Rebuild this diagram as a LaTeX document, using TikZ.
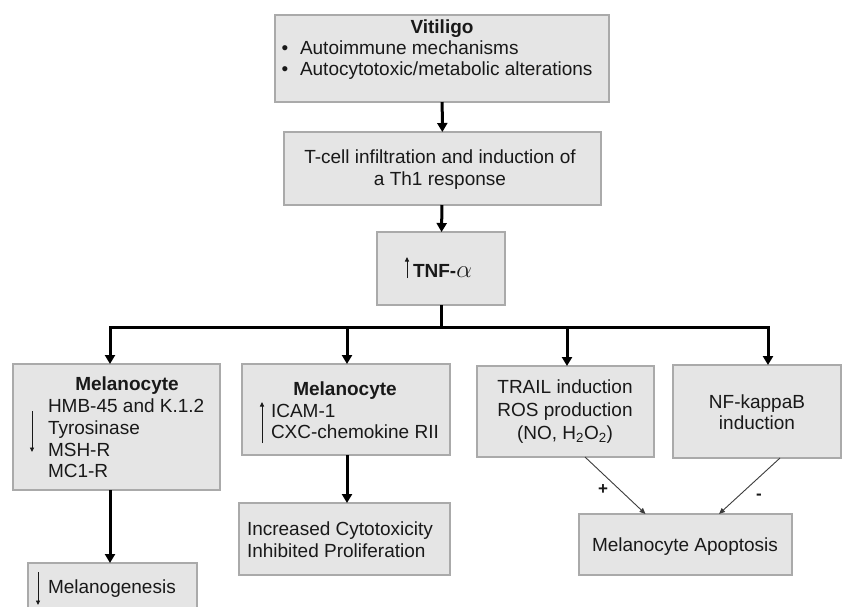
\documentclass[tikz,border=0pt]{standalone}
\usepackage{fontspec}
\setmainfont{Liberation Sans}
\usetikzlibrary{arrows.meta,calc}
\definecolor{boxfill}{RGB}{229,229,229}
\definecolor{boxline}{RGB}{170,170,170}
\definecolor{ink}{RGB}{25,25,25}
\tikzset{
  box/.style={draw=boxline, fill=boxfill, line width=1.3pt, inner sep=0pt, outer sep=0pt, rectangle},
  txt/.style={inner sep=0pt, outer sep=0pt, text=ink, font=\fontsize{19}{21}\selectfont},
  bold/.style={txt, font=\fontsize{19}{21}\selectfont\bfseries},
  thickarrow/.style={line width=3pt, draw=black, -{Triangle[length=9pt,width=10pt]}},
  bothtips/.style={line width=3pt, draw=black, {Triangle[length=9pt,width=10pt]}-{Triangle[length=9pt,width=10pt]}, line join=miter},
  thickline/.style={line width=3pt, draw=black},
  thinarrow/.style={line width=0.9pt, draw=ink!85, -{Triangle[length=6pt,width=5pt]}},
  glypharrow/.style={line width=0.9pt, draw=ink, -{Triangle[length=4.5pt,width=4pt]}},
}
\begin{document}
\begin{tikzpicture}[x=1pt,y=-1pt]
\useasboundingbox (0,0) rectangle (842,606);
\fill[white] (0,0) rectangle (842,606);
\clip (0,0) rectangle (842,606);

% boxes
\node[box, minimum width=334pt, minimum height=87pt] (vit) at (442,58.5) {};
\node[box, minimum width=317pt, minimum height=73pt] (tcell) at (442.5,168.5) {};
\node[box, minimum width=128pt, minimum height=73pt] (tnf) at (441,268.5) {};
\node[box, minimum width=207pt, minimum height=126pt] (m1) at (116.5,427) {};
\node[box, minimum width=169pt, minimum height=77pt] (melg) at (112.5,601.5) {};
\node[box, minimum width=208pt, minimum height=91pt] (m2) at (346,409.5) {};
\node[box, minimum width=211pt, minimum height=72pt] (inc) at (344.5,539) {};
\node[box, minimum width=177pt, minimum height=91pt] (trail) at (565.5,411.5) {};
\node[box, minimum width=168pt, minimum height=93pt] (nf) at (757,411.5) {};
\node[box, minimum width=213pt, minimum height=61pt] (apop) at (685.5,544.5) {};

% Vitiligo texts
\node[bold, anchor=base] (vitT) at (442,33) {Vitiligo};
\node[txt, anchor=base] (vitB1) at (285,54) {\textbullet};
\node[txt, anchor=base west] (vitL1) at (300,54) {Autoimmune mechanisms};
\node[txt, anchor=base] (vitB2) at (285,75) {\textbullet};
\node[txt, anchor=base west] (vitL2) at (300,75) {Autocytotoxic/metabolic alterations};

% T-cell
\node[txt, anchor=base] (tcL1) at (440,163) {T-cell infiltration and induction of};
\node[txt, anchor=base] (tcL2) at (440,185) {a Th1 response};

% TNF
\node[bold, anchor=base west] (tnfT) at (413,277) {TNF-\textmd{\fontsize{23}{23}\selectfont$\alpha$}};
\draw[glypharrow] (407,278) -- (407,257);

% Melanocyte 1
\node[bold, anchor=base] (m1T) at (127,390) {Melanocyte};
\node[txt, anchor=base west] (m1L1) at (48,412) {HMB-45 and K.1.2};
\node[txt, anchor=base west] (m1L2) at (48,434) {Tyrosinase};
\node[txt, anchor=base west] (m1L3) at (48,456) {MSH-R};
\node[txt, anchor=base west] (m1L4) at (48,477) {MC1-R};
\draw[glypharrow] (32,411) -- (32,452);

% Melanogenesis
\node[txt, anchor=base west] (melgT) at (48,593) {Melanogenesis};
\draw[glypharrow] (38,572) -- (38,605);

% Melanocyte 2
\node[bold, anchor=base] (m2T) at (345,395) {Melanocyte};
\node[txt, anchor=base west] (m2L1) at (271,417) {ICAM-1};
\node[txt, anchor=base west] (m2L2) at (271,438) {CXC-chemokine RII};
\draw[glypharrow] (262,443) -- (262,402);

% Increased
\node[txt, anchor=base west] (incL1) at (247,535) {Increased Cytotoxicity};
\node[txt, anchor=base west] (incL2) at (247,557) {Inhibited Proliferation};

% TRAIL
\node[txt, anchor=base] (trL1) at (565,393) {TRAIL induction};
\node[txt, anchor=base] (trL2) at (565,416) {ROS production};
\node[txt, anchor=base] (trL3) at (565,439) {(NO, H\textsubscript{2}O\textsubscript{2})};

% NF
\node[txt, anchor=base] (nfL1) at (757,408) {NF-kappaB};
\node[txt, anchor=base] (nfL2) at (757,429) {induction};

% Apoptosis
\node[txt, anchor=base] (apT) at (685,551) {Melanocyte Apoptosis};

% thick connectors
\draw[thickarrow] (vit) -- (tcell);
\draw[thickarrow] (tcell) -- (tnf);
\coordinate (j1) at (110,327);
\coordinate (j2) at (347,327);
\coordinate (j3) at (567,327);
\coordinate (j4) at (768,327);
\draw[thickline] (tnf.south) -- (tnf.south |- j1);
\draw[bothtips] (j1 |- m1.north) -- (j1) -- (j4) -- (j4 |- nf.north);
\draw[thickarrow] (j2) -- (j2 |- m2.north);
\draw[thickarrow] (j3) -- (j3 |- trail.north);
\draw[thickarrow] (j1 |- m1.south) -- (j1 |- melg.north);
\draw[thickarrow] (j2 |- m2.south) -- (j2 |- inc.north);

% thin connectors
\draw[thinarrow] ($(trail.south)+(19.5,0)$) -- ($(apop.north)+(-40,0)$);
\draw[thinarrow] ($(nf.south)+(23,0)$) -- ($(apop.north)+(33.5,0)$);
\node[txt, font=\fontsize{17}{19}\selectfont\bfseries] (plus) at (603,490) {+};
\node[txt, font=\fontsize{17}{19}\selectfont\bfseries] (minus) at (759,497) {-};
\end{tikzpicture}
\end{document}
